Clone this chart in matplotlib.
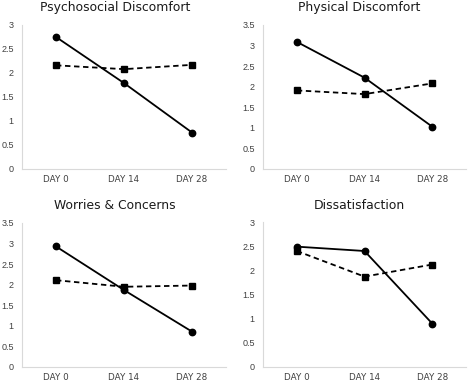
import matplotlib
matplotlib.use("Agg")
import matplotlib.pyplot as plt

days = ["DAY 0", "DAY 14", "DAY 28"]
titles = ["Psychosocial Discomfort", "Physical Discomfort", "Worries & Concerns", "Dissatisfaction"]
solid_series = [
    [2.75, 1.79, 0.76],
    [3.09, 2.22, 1.03],
    [2.93, 1.87, 0.86],
    [2.49, 2.40, 0.90],
]
dashed_series = [
    [2.16, 2.08, 2.17],
    [1.91, 1.82, 2.08],
    [2.11, 1.95, 1.98],
    [2.40, 1.87, 2.12],
]
ymaxes = [3, 3.5, 3.5, 3]
yticks_list = [
    [0, 0.5, 1, 1.5, 2, 2.5, 3],
    [0, 0.5, 1, 1.5, 2, 2.5, 3, 3.5],
    [0, 0.5, 1, 1.5, 2, 2.5, 3, 3.5],
    [0, 0.5, 1, 1.5, 2, 2.5, 3],
]

plt.rcParams['font.family'] = ['Liberation Sans', 'DejaVu Sans']
W, H = 472, 381
fig = plt.figure(figsize=(W / 100, H / 100), dpi=100)

# axes boxes in pixels: left, right, top, bottom
boxes = [
    (22, 226, 25, 169),
    (263, 466, 25, 169),
    (22, 226, 223, 367),
    (263, 466, 222, 367),
]
title_pos = [(115, 7.5), (359, 7.5), (115, 205.5), (359, 205.5)]

for i in range(4):
    l, r, t, b = boxes[i]
    ax = fig.add_axes([l / W, 1 - b / H, (r - l) / W, (b - t) / H])
    x = list(range(len(days)))
    ax.plot(x, solid_series[i], color='black', linestyle='-', linewidth=1.3,
            marker='o', markersize=4.6, zorder=3)
    ax.plot(x, dashed_series[i], color='black', linestyle=(0, (3, 2)), linewidth=1.3,
            marker='s', markersize=4.6, zorder=3)
    ax.set_xlim(-0.5, 2.5)
    ax.set_ylim(0, ymaxes[i])
    ax.set_xticks(x)
    ax.set_xticklabels(days, family=['DejaVu Sans'], fontsize=6.3)
    ax.set_yticks(yticks_list[i])
    ax.set_yticklabels([("%g" % v) for v in yticks_list[i]], fontsize=6.5)
    for s in ['top', 'right']:
        ax.spines[s].set_visible(False)
    for s in ['left', 'bottom']:
        ax.spines[s].set_color('#d9d9d9')
        ax.spines[s].set_linewidth(0.8)
    ax.tick_params(axis='both', length=0, colors='#404040')
    ax.tick_params(axis='x', pad=4)
    ax.tick_params(axis='y', pad=6)
    tx, ty = title_pos[i]
    fig.text(tx / W, 1 - ty / H, titles[i], ha='center', va='center',
             fontsize=8.9, color='#1a1a1a', family=['DejaVu Sans'])

fig.savefig("out.png", dpi=100)
